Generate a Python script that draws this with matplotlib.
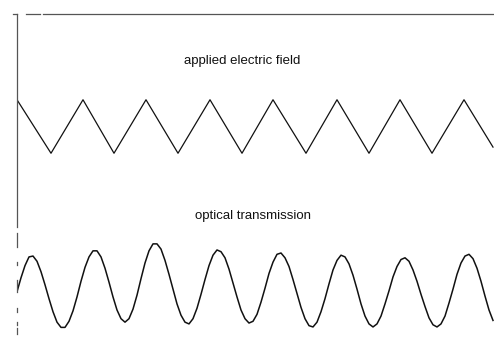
import numpy as np
import matplotlib
matplotlib.use("Agg")
import matplotlib.pyplot as plt

### Data (time in arbitrary units) ###

# applied electric field: triangle wave, turning points
field_t = [0, 34, 66, 97, 129, 161, 193, 225, 256, 289, 320, 352, 383, 415, 447, 476]
field_v = [1, -1, 1, -1, 1, -1, 1, -1, 1, -1, 1, -1, 1, -1, 1, -0.77]

# optical transmission, sampled every 4 time units (normalised)
trans_dt = 4
trans = [
    0.44, 0.60, 0.74, 0.84, 0.85, 0.79, 0.67, 0.52, 0.36, 0.21,
    0.09, 0.03, 0.03, 0.10, 0.22, 0.38, 0.56, 0.72, 0.84, 0.91,
    0.91, 0.84, 0.71, 0.55, 0.38, 0.23, 0.13, 0.09, 0.13, 0.24,
    0.40, 0.59, 0.77, 0.91, 0.99, 0.99, 0.93, 0.80, 0.64, 0.47,
    0.30, 0.17, 0.09, 0.07, 0.13, 0.25, 0.41, 0.58, 0.74, 0.86,
    0.92, 0.90, 0.83, 0.70, 0.54, 0.38, 0.23, 0.13, 0.08, 0.10,
    0.18, 0.32, 0.48, 0.65, 0.78, 0.87, 0.885, 0.83, 0.73, 0.58,
    0.42, 0.26, 0.13, 0.05, 0.035, 0.09, 0.21, 0.36, 0.53, 0.69,
    0.80, 0.86, 0.84, 0.76, 0.63, 0.47, 0.30, 0.16, 0.07, 0.035,
    0.07, 0.16, 0.30, 0.45, 0.61, 0.73, 0.81, 0.83, 0.79, 0.69,
    0.56, 0.41, 0.27, 0.14, 0.06, 0.035, 0.07, 0.16, 0.31, 0.47,
    0.64, 0.77, 0.85, 0.87, 0.82, 0.71, 0.56, 0.39, 0.23, 0.11,
]

labels = ["applied electric field", "optical transmission"]

### Layout ###
W, H = 494, 348
fig = plt.figure(figsize=(W / 100, H / 100), dpi=100)
ax = fig.add_axes([17 / W, 0, 477 / W, 334 / H])
ax.set_xlim(0, 477)
ax.set_ylim(0, 334)
ax.axis("off")

# trace offsets / scales on the shared vertical axis
field_mid, field_amp = 221.5, 26.75
trans_base, trans_amp = 18, 87

ink = "#111111"
t_trans = np.arange(len(trans)) * trans_dt
ax.plot(field_t, field_mid + field_amp * np.array(field_v), color=ink, lw=0.9)
ax.plot(t_trans, trans_base + trans_amp * np.array(trans), color=ink, lw=1.1)

ax.text(225, 287, labels[0], ha="center", va="center", fontsize=9.5,
        family="Liberation Sans", color="#111111")
ax.text(236, 132, labels[1], ha="center", va="center", fontsize=9.5,
        family="Liberation Sans", color="#111111")

# frame: left and top edges (broken like the scan)
grey = "#555555"
for x0, x1 in [(-4 / 477, 0), (9 / 477, 23 / 477), (26 / 477, 1)]:
    ax.plot([x0, x1], [1, 1], color=grey, lw=0.9, transform=ax.transAxes, clip_on=False)
ax.plot([0, 0], [1, (348 - 227) / 334], color=grey, lw=0.9, transform=ax.transAxes, clip_on=False)
for y0, y1 in [(233, 247), (262, 265), (280, 292), (308, 312), (322, 325), (328, 334)]:
    ax.plot([0, 0], [(348 - y0) / 334, (348 - y1) / 334], color=grey, lw=0.9,
            transform=ax.transAxes, clip_on=False)

fig.savefig("out.png", dpi=100)
